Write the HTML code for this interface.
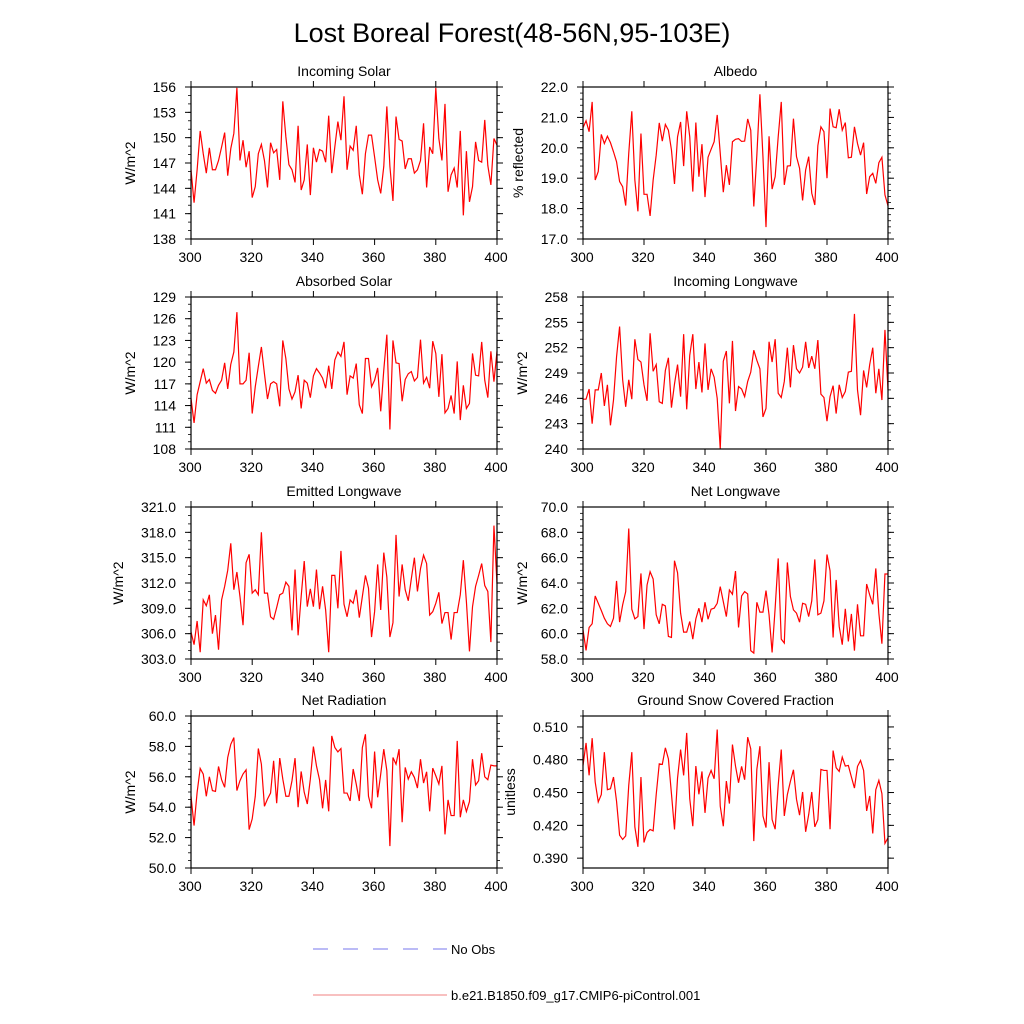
<!DOCTYPE html>
<html><head><meta charset="utf-8"><style>
html,body{margin:0;padding:0;background:#fff;}
svg{display:block;font-family:"Liberation Sans",sans-serif;}
</style></head><body>
<svg id="chart" width="1024" height="1024" viewBox="0 0 1024 1024">
<text x="512" y="42" font-size="27" text-anchor="middle">Lost Boreal Forest(48-56N,95-103E)</text>
<g>
<line x1="313" y1="949" x2="447" y2="949" stroke="#7777ee" stroke-width="1" stroke-dasharray="15,15"/>
<text x="451" y="954" font-size="13">No Obs</text>
<line x1="313" y1="995" x2="447" y2="995" stroke="#f08080" stroke-width="1"/>
<text x="451" y="1000" font-size="13">b.e21.B1850.f09_g17.CMIP6-piControl.001</text>
</g>
</svg>
<script>
const incomingSolar=[146.2,142.3,146.2,150.8,148.1,145.8,148.8,146.2,146.2,147.3,148.9,150.6,145.5,148.7,150.5,155.9,147.3,149.7,146.5,148.4,142.9,144.2,148.1,149.2,147.3,144.1,149.4,148.2,148.6,145,154.3,150.1,146.8,146.2,144.7,151.4,143.8,145,149.2,143.2,148.8,147.1,148.6,148.4,147.1,152.6,145.8,148.9,151.9,149.7,154.9,146.2,149,148.5,151.4,145.6,143.3,148.1,150.3,150.3,147.7,145,143.4,146.6,153.7,146.6,142.5,152.5,149.8,149.6,146.3,147.5,147.5,145.8,146.2,147.3,151.7,144.1,148.9,148.1,155.9,149.9,147.3,154,143.6,145.6,146.4,144.1,150.8,140.8,148.4,142.4,144.2,149.5,147.3,147.1,152.1,146.7,144.4,149.9,149.1];
const albedo=[20.66,20.89,20.53,21.51,18.94,19.22,20.44,20.14,20.38,20.17,19.87,19.54,18.89,18.72,18.1,19.82,21.2,18.94,17.91,20.47,18.47,18.47,17.76,18.94,19.76,20.82,20.22,20.77,20.58,19.93,18.81,20.36,20.85,19.4,21.2,20.36,18.56,20.83,19.05,20.12,18.38,19.69,19.95,20.2,21.08,19.82,18.54,19.43,18.78,20.2,20.28,20.3,20.21,20.22,20.95,20.58,18.07,19.76,21.76,19.71,17.39,20.38,18.64,19.05,20.36,21.51,18.78,19.4,19.41,20.96,19.71,19.33,18.27,19.27,19.71,18.51,18.12,20.07,20.69,20.53,19,21.29,20.69,20.66,21.27,20.58,20.83,19.67,19.69,20.69,20.14,19.76,20.17,18.48,19.05,19.16,18.83,19.51,19.69,18.45,18.09];
const absorbedSolar=[115.0,111.6,115.5,117.3,119.1,117.1,117.6,116.1,115.7,116.8,117.5,119.9,116.3,119.7,121.4,126.9,117,117,117.5,121.3,112.9,116.6,119.4,122.1,118.4,114.9,117,117.3,117,113.9,123,120.5,116.3,114.9,115.9,118.2,113.6,117.5,117.1,115.1,118.1,119.1,118.5,117.8,116.4,119.5,116.3,120.3,121.4,120.8,122.8,115.5,118.1,117.8,119.8,114.1,112.9,120.5,120.5,116.6,117.5,119.2,113.2,118.9,123.8,110.7,123,119.9,119.8,114.6,117.6,118.4,118.7,117.4,117.9,123.1,117.1,117.9,116.4,122.9,121.2,115.2,121.1,113,113.6,115.4,112.9,120.1,112,116.8,113.6,114.3,121.2,118.2,118.1,122.8,117.5,115.1,121.5,117.3,121.5];
const incomingLongwave=[245.9,245.9,247.1,243,247,247,249,245.1,247.6,242.8,245.8,250.9,254.5,248.2,245,248.2,245.9,253,250.6,250.3,247.6,245.7,253.7,249.2,250,245.6,245.4,249.3,250.8,244.9,247.7,250,246.2,253.6,244.7,251.1,253.6,247.1,250.3,246.7,252.5,247,249.5,248.5,246,240,250.4,251.6,245.4,252.8,244.5,247.4,247.1,246.2,248,249.1,251.7,250.5,249.5,243.8,244.8,252.7,250.3,253,246.6,246.1,248,252,247.3,252.3,249.5,249,249.7,252.7,249.6,251,249.5,252.9,246.5,246.1,243.3,246.2,247.5,244.2,247.6,246.1,246.8,249.1,249.2,256,247,244,249.3,247.3,250,252,246.6,249.5,245.8,254.1,247];
const emittedLongwave=[306.2,304.7,307.5,303.8,310.0,309.3,310.6,306.0,308.2,304.1,310.0,311.6,313.5,316.7,311.2,313.3,310.4,307.0,314.4,315.4,310.8,311.2,310.6,318.0,310.8,310.8,308.0,307.7,309.1,310.6,310.8,312.1,311.6,306.4,313.6,305.8,310.4,314.6,309.2,311.3,309.2,313.6,308.9,311.6,308.8,303.8,312.9,312.9,309.0,315.8,309.5,308.0,310.0,309.6,311.2,307.9,310.4,312.9,311.4,305.6,308.6,314.2,308.8,315.6,312.7,305.6,307.3,317.7,310.4,314.2,311.2,309.9,312.5,315.0,311.0,313.7,315.3,314.3,308.2,308.6,309.6,310.9,307.2,308.5,308.5,305.3,308.5,308.5,310.6,314.7,309.8,303.9,309.2,311.6,312.9,314.3,311.7,311.0,305.0,318.8,311.9];
const netLongwave=[60.31,58.68,60.49,60.78,62.98,62.40,61.83,61.22,60.78,60.57,61.22,64.16,60.91,62.27,63.32,68.30,61.93,61.17,61.35,64.76,60.36,63.84,64.89,64.31,61.49,60.78,62.32,62.19,59.78,59.70,65.76,64.81,61.62,60.12,60.12,60.96,59.57,61.17,62.01,60.91,62.48,61.14,61.93,62.01,62.40,63.71,62.53,61.35,63.45,63.11,64.94,60.49,62.98,63.32,63.14,58.66,58.47,62.48,61.70,61.70,63.40,61.49,58.52,62.01,65.94,59.57,59.26,65.62,62.93,61.88,61.62,60.91,62.40,62.32,61.35,62.59,65.86,61.49,61.62,62.59,66.25,64.97,59.70,64.24,60.57,59.13,61.96,59.39,61.56,58.66,62.32,59.83,59.83,63.92,63.06,62.32,65.15,61.62,59.21,64.71,64.71];
const netRadiation=[54.72,52.79,54.98,56.55,56.18,54.72,56.0,55.09,55.04,56.68,55.81,55.31,57.27,58.14,58.58,55.09,55.74,56.18,56.46,52.53,53.23,54.72,57.86,56.83,54.06,54.54,54.93,57.05,54.26,57.23,55.85,54.72,54.72,55.74,57.23,54.0,56.35,54.98,54.21,55.85,57.99,56.72,55.81,53.93,55.79,53.73,58.69,57.93,57.64,57.86,54.93,54.93,54.41,56.51,55.52,54.41,57.93,58.80,54.72,53.93,57.66,54.65,56.18,57.82,56.40,51.44,57.27,56.83,57.82,53.01,56.62,55.85,56.33,55.96,55.26,57.16,55.59,56.33,53.73,56.57,56.07,55.52,56.72,52.21,54.48,53.45,53.45,58.36,53.34,54.48,53.71,54.37,57.16,55.46,55.74,57.55,56.0,55.81,56.77,56.72,56.72];
const snowFraction=[0.4748,0.4954,0.4657,0.4997,0.4596,0.4414,0.4481,0.4869,0.4526,0.4535,0.4642,0.4420,0.4110,0.4071,0.4104,0.4566,0.4869,0.4186,0.4004,0.4642,0.4044,0.4135,0.4162,0.4150,0.4481,0.4763,0.4757,0.4909,0.4808,0.4490,0.4162,0.4632,0.4893,0.4657,0.5045,0.4444,0.4192,0.4742,0.4484,0.4693,0.4314,0.4632,0.4702,0.4626,0.5076,0.4375,0.4192,0.4605,0.4399,0.4939,0.4742,0.4590,0.4739,0.4617,0.5006,0.4900,0.4056,0.4711,0.4924,0.4286,0.4180,0.4778,0.4253,0.4165,0.4566,0.4893,0.4286,0.4481,0.4602,0.4708,0.4438,0.4293,0.4505,0.4141,0.4299,0.4505,0.4186,0.4253,0.4711,0.4702,0.4702,0.4165,0.4884,0.4727,0.4693,0.4824,0.4742,0.4748,0.4642,0.4541,0.4739,0.4793,0.4702,0.4332,0.4469,0.4126,0.4526,0.4611,0.4490,0.4035,0.4086];
const xTickLabels=[300,320,340,360,380,400];
const ticksIncomingSolar=[138,141,144,147,150,153,156];
const ticksAlbedo=[17.0,18.0,19.0,20.0,21.0,22.0];
const ticksAbsorbed=[108,111,114,117,120,123,126,129];
const ticksIncomingLW=[240,243,246,249,252,255,258];
const ticksEmitted=[303.0,306.0,309.0,312.0,315.0,318.0,321.0];
const ticksNetLW=[58.0,60.0,62.0,64.0,66.0,68.0,70.0];
const ticksNetRad=[50.0,52.0,54.0,56.0,58.0,60.0];
const ticksSnow=[0.390,0.420,0.450,0.480,0.510];

const NS='http://www.w3.org/2000/svg';
const svg=document.getElementById('chart');
function mk(tag,attrs,parent){const e=document.createElementNS(NS,tag);for(const k in attrs)e.setAttribute(k,attrs[k]);parent.appendChild(e);return e;}

const panels=[
 {name:'incoming-solar',title:'Incoming Solar',ytitle:'W/m^2',data:incomingSolar,ticks:ticksIncomingSolar,ymin:138,ymax:156,minor:1,dec:0,x0:191,x1:497,y0:87,y1:239,yt:135},
 {name:'albedo',title:'Albedo',ytitle:'% reflected',data:albedo,ticks:ticksAlbedo,ymin:17,ymax:22,minor:0.2,dec:1,x0:583,x1:888,y0:87,y1:239,yt:523},
 {name:'absorbed-solar',title:'Absorbed Solar',ytitle:'W/m^2',data:absorbedSolar,ticks:ticksAbsorbed,ymin:108,ymax:129,minor:1,dec:0,x0:191,x1:497,y0:297,y1:449,yt:135},
 {name:'incoming-longwave',title:'Incoming Longwave',ytitle:'W/m^2',data:incomingLongwave,ticks:ticksIncomingLW,ymin:240,ymax:258,minor:1,dec:0,x0:583,x1:888,y0:297,y1:449,yt:527},
 {name:'emitted-longwave',title:'Emitted Longwave',ytitle:'W/m^2',data:emittedLongwave,ticks:ticksEmitted,ymin:303,ymax:321,minor:1,dec:1,x0:191,x1:497,y0:507,y1:659,yt:123},
 {name:'net-longwave',title:'Net Longwave',ytitle:'W/m^2',data:netLongwave,ticks:ticksNetLW,ymin:58,ymax:70,minor:0.5,dec:1,x0:583,x1:888,y0:507,y1:659,yt:527},
 {name:'net-radiation',title:'Net Radiation',ytitle:'W/m^2',data:netRadiation,ticks:ticksNetRad,ymin:50,ymax:60,minor:0.5,dec:1,x0:191,x1:497,y0:716,y1:868,yt:135},
 {name:'ground-snow-covered-fraction',title:'Ground Snow Covered Fraction',ytitle:'unitless',data:snowFraction,ticks:ticksSnow,ymin:0.381,ymax:0.520,minor:0.01,dec:3,x0:583,x1:888,y0:716,y1:868,yt:515}
];

panels.forEach(p=>{
 const g=mk('g',{},svg);
 
 
 const xs=v=>p.x0+(v-300)/100*(p.x1-p.x0);
 const ys=v=>p.y1-(v-p.ymin)/(p.ymax-p.ymin)*(p.y1-p.y0);
 let d='';
 p.data.forEach((v,i)=>{d+=(i?'L':'M')+xs(300+i).toFixed(2)+','+ys(v).toFixed(2);});
 const path=mk('path',{d:d,fill:'none',stroke:'#ff0000','stroke-width':1.2},g);
 
 
 const fr=mk('rect',{x:p.x0,y:p.y0,width:p.x1-p.x0,height:p.y1-p.y0,fill:'none',stroke:'#000','stroke-width':1.2},g);
 
 
 xTickLabels.forEach(t=>{
  const x=xs(t);
  mk('line',{x1:x,y1:p.y1,x2:x,y2:p.y1+6,stroke:'#000','stroke-width':1},g);
  mk('line',{x1:x,y1:p.y0,x2:x,y2:p.y0-6,stroke:'#000','stroke-width':1},g);
  const tx=mk('text',{x:x-1,y:p.y1+23,'font-size':14,'text-anchor':'middle'},g);
  tx.textContent=t;
  
  
 });
 const start=Math.ceil(p.ymin/p.minor-1e-6);
 for(let k=start;k*p.minor<=p.ymax+1e-9;k++){
  const y=ys(k*p.minor);
  mk('line',{x1:p.x0,y1:y,x2:p.x0-3,y2:y,stroke:'#000','stroke-width':0.8},g);
  mk('line',{x1:p.x1,y1:y,x2:p.x1+3,y2:y,stroke:'#000','stroke-width':0.8},g);
 }
 p.ticks.forEach(t=>{
  const y=ys(t);
  mk('line',{x1:p.x0,y1:y,x2:p.x0-6,y2:y,stroke:'#000','stroke-width':1},g);
  mk('line',{x1:p.x1,y1:y,x2:p.x1+6,y2:y,stroke:'#000','stroke-width':1},g);
  const tx=mk('text',{x:p.x0-15,y:y+5,'font-size':14,'text-anchor':'end'},g);
  tx.textContent=t.toFixed(p.dec);
  
  
 });
 const ti=mk('text',{x:(p.x0+p.x1)/2,y:p.y0-11,'font-size':14,'text-anchor':'middle'},g);
 ti.textContent=p.title;
 
 
 const cy=(p.y0+p.y1)/2;
 const yt=mk('text',{x:p.yt,y:cy,'font-size':14,'text-anchor':'middle',transform:'rotate(-90 '+p.yt+' '+cy+')'},g);
 yt.textContent=p.ytitle;
 
 
});
</script>
</body></html>
